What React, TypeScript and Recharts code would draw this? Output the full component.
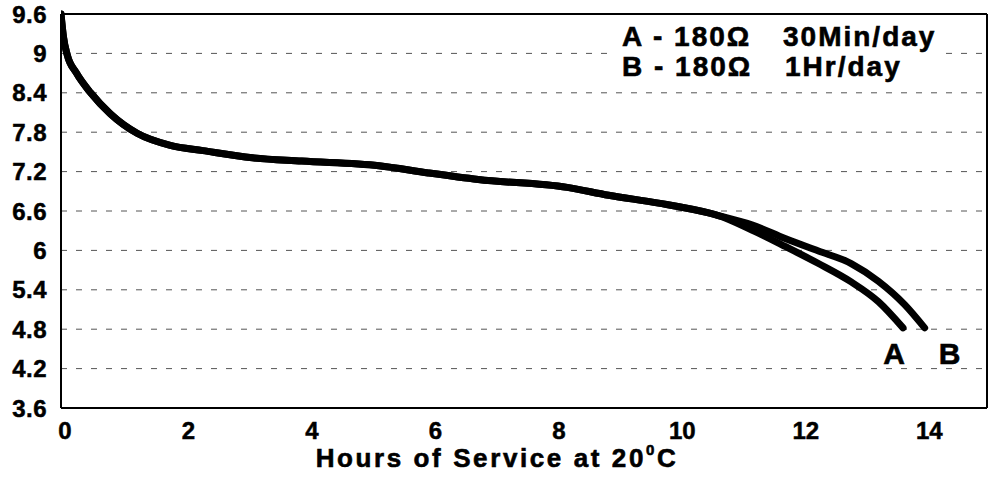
import React from 'react';
import { LineChart, Line, XAxis, YAxis, CartesianGrid, ReferenceLine } from 'recharts';

// shared discharge curve (both loads follow it until ~10.6 h)
const commonHours = [0, 0.04, 0.1, 0.25, 0.48, 0.8, 1.24, 1.77, 2.3, 3.1, 3.9, 5.15, 5.95, 6.76, 8.2, 8.87, 9.68, 10.49, 10.65];
const commonVolts = [9.6, 9.25, 8.98, 8.7, 8.4, 8.08, 7.78, 7.6, 7.52, 7.41, 7.36, 7.29, 7.18, 7.08, 6.96, 6.84, 6.72, 6.57, 6.53];

// A - 180 ohm, 30 min/day
const tailAHours = [11.19, 11.73, 12.27, 12.8, 13.24, 13.64];
const tailAVolts = [6.31, 6.06, 5.8, 5.52, 5.22, 4.82];

// B - 180 ohm, 1 hr/day
const tailBHours = [11.19, 11.73, 12.27, 12.8, 13.24, 13.67, 13.99];
const tailBVolts = [6.39, 6.18, 5.99, 5.8, 5.53, 5.17, 4.82];

const xTicks = [0, 2, 4, 6, 8, 10, 12, 14];
const yTicks = [3.6, 4.2, 4.8, 5.4, 6, 6.6, 7.2, 7.8, 8.4, 9, 9.6];

const toPoints = (hours: number[], volts: number[]) =>
  hours.map((h, i) => ({ h, v: volts[i] }));

const dataA = toPoints([...commonHours, ...tailAHours], [...commonVolts, ...tailAVolts]);
const dataB = toPoints([...commonHours, ...tailBHours], [...commonVolts, ...tailBVolts]);

const FONT = '"Liberation Sans", Arial, Helvetica, sans-serif';

const AxisTitle = () => (
  <text
    x={497}
    y={467}
    textAnchor="middle"
    fontFamily={FONT}
    fontWeight="bold"
    fontSize={26}
    letterSpacing={2.6}
    fill="#000"
    stroke="#000"
    strokeWidth={0.6}
  >
    <tspan>Hours of Service at 20</tspan>
    <tspan fontSize={15} dy={-12}>0</tspan>
    <tspan dy={12}>C</tspan>
  </text>
);

const endLabel = (name: string, count: number, dx: number) => (props: any) => {
  const { x, y, index } = props;
  if (index !== count - 1) return null;
  return (
    <text
      key={name}
      x={x + dx}
      y={y + 36}
      textAnchor="middle"
      fontFamily={FONT}
      fontWeight="bold"
      fontSize={30}
      fill="#000"
      stroke="#000"
      strokeWidth={0.6}
    >
      {name}
    </text>
  );
};

const tickStyle = {
  fill: '#000',
  fontSize: 24,
  fontWeight: 'bold',
  fontFamily: FONT,
  stroke: '#000',
  strokeWidth: 0.5,
};

const App: React.FC = () => {
  return (
    <div style={{ position: 'absolute', left: 0, top: 0, width: 990, height: 479, background: '#fff' }}>
      <LineChart width={990} height={479} margin={{ top: 14, right: 3, bottom: 0, left: 0 }}>
        <CartesianGrid vertical={false} stroke="#555" strokeDasharray="6 9" />
        <XAxis
          dataKey="h"
          type="number"
          domain={[0, 15]}
          ticks={xTicks}
          allowDataOverflow
          height={71}
          tickSize={0}
          tickMargin={14}
          tickLine={false}
          axisLine={{ stroke: '#000', strokeWidth: 2 }}
          tick={{ ...tickStyle, dx: 4 }}
          label={<AxisTitle />}
        />
        <YAxis
          type="number"
          domain={[3.6, 9.6]}
          ticks={yTicks}
          interval={0}
          width={61}
          tickSize={0}
          tickMargin={14}
          tickLine={false}
          tickFormatter={(v: number) => String(Math.round(v * 10) / 10)}
          axisLine={{ stroke: '#000', strokeWidth: 2 }}
          tick={{ ...tickStyle, letterSpacing: 0.5 }}
        />
        {/* frame: top and right edges */}
        <ReferenceLine y={9.6} stroke="#000" strokeWidth={2} />
        <ReferenceLine x={15} stroke="#000" strokeWidth={2} />
        <Line
          data={dataB}
          dataKey="v"
          name="B"
          type="monotone"
          stroke="#000"
          strokeWidth={7}
          strokeLinecap="round"
          dot={false}
          activeDot={false}
          isAnimationActive={false}
          label={endLabel('B', dataB.length, 25)}
        />
        <Line
          data={dataA}
          dataKey="v"
          name="A"
          type="monotone"
          stroke="#000"
          strokeWidth={7}
          strokeLinecap="round"
          dot={false}
          activeDot={false}
          isAnimationActive={false}
          label={endLabel('A', dataA.length, -9)}
        />
      </LineChart>
      <svg
        width={990}
        height={479}
        style={{ position: 'absolute', left: 0, top: 0, pointerEvents: 'none' }}
      >
        <g
          fontFamily={FONT}
          fontWeight="bold"
          fontSize={28}
          fill="#000"
          stroke="#000"
          strokeWidth={0.6}
          letterSpacing={2}
        >
          <rect x={612} y={20} width={330} height={62} fill="#fff" stroke="none" />
          <text x={622} y={46}>A - 180Ω</text>
          <text x={783} y={46}>30Min/day</text>
          <text x={622} y={76}>B - 180Ω</text>
          <text x={785} y={76}>1Hr/day</text>
        </g>
      </svg>
    </div>
  );
};

export default App;
